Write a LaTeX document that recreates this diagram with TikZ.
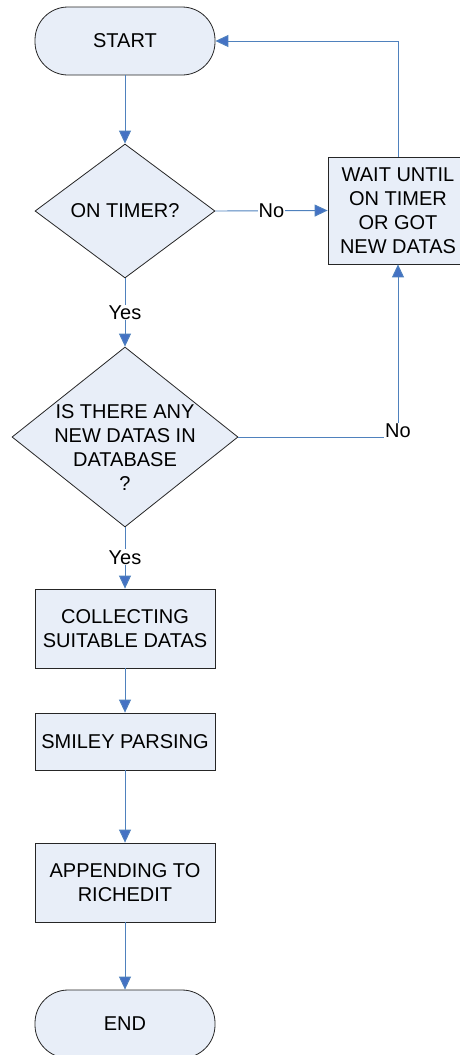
\documentclass[tikz,border=0pt]{standalone}
\usepackage{fontspec}
\setmainfont{Liberation Sans}
\usetikzlibrary{shapes.geometric,arrows.meta}
\definecolor{flowblue}{HTML}{4F81BD}
\definecolor{tipblue}{HTML}{4472C4}
\definecolor{boxfill}{HTML}{E8EEF8}
\newcommand{\flowfont}{\fontsize{20}{24}\selectfont}
\tikzset{
  base/.style={draw=black!85, line width=0.8pt, fill=boxfill, inner sep=0pt,
    font=\flowfont, align=center},
  terminal/.style={base, rectangle, rounded corners=33pt, minimum width=180pt, minimum height=68pt},
  process/.style={base, rectangle, minimum width=180pt},
  decision/.style={base, diamond},
  flow/.style={draw=flowblue, line width=0.9pt},
  flowarrow/.style={flow, -{Triangle[length=13pt,width=12pt,fill=tipblue]}},
  lbl/.style={fill=white, inner sep=1pt, font=\flowfont}
}
\begin{document}
\begin{tikzpicture}[x=1pt,y=-1pt]
\useasboundingbox (0,0) rectangle (460,1055);

% main column
\node[terminal] (start) at (125,41) {START};
\node[decision, minimum width=180pt, minimum height=134pt,
      label={[font=\flowfont]center:ON TIMER?}] (t1) at (125,211) {};
\node[decision, minimum width=226pt, minimum height=180pt,
      label={[font=\flowfont, align=center, yshift=-11pt]center:IS THERE ANY\\NEW DATAS IN\\DATABASE\\?}] (d2) at (125,437) {};
\node[process, minimum height=79pt] (collect) at (125,628.5) {COLLECTING\\SUITABLE DATAS};
\node[process, minimum height=57pt] (smiley) at (125,741.5) {SMILEY PARSING};
\node[process, minimum height=79pt] (append) at (125,882.5) {APPENDING TO\\RICHEDIT};
\node[terminal] (end) at (125,1024) {END};

% waiting branch
\node[base, rectangle, minimum width=140pt, minimum height=107pt] (wait) at (398,210.5)
  {WAIT UNTIL\\ON TIMER\\OR GOT\\NEW DATAS};
\node[lbl] (no2) at (398,431) {No};

% connectors
\draw[flowarrow] (start.south) -- (t1.north);
\draw[flowarrow] (t1.south) -- node[lbl] {Yes} (d2.north);
\draw[flowarrow] (d2.south) -- node[lbl, pos=0.49] {Yes} (collect.north);
\draw[flowarrow] (collect.south) -- (smiley.north);
\draw[flowarrow] (smiley.south) -- (append.north);
\draw[flowarrow] (append.south) -- (end.north);
\draw[flowarrow] (t1.east) -- node[lbl] {No} (wait.west);
\draw[flowarrow] (wait.north) |- (start.east);
\draw[flow] (d2.east) -- (d2.east -| no2.west);
\draw[flowarrow] (no2.north) -- (wait.south);
\end{tikzpicture}
\end{document}
